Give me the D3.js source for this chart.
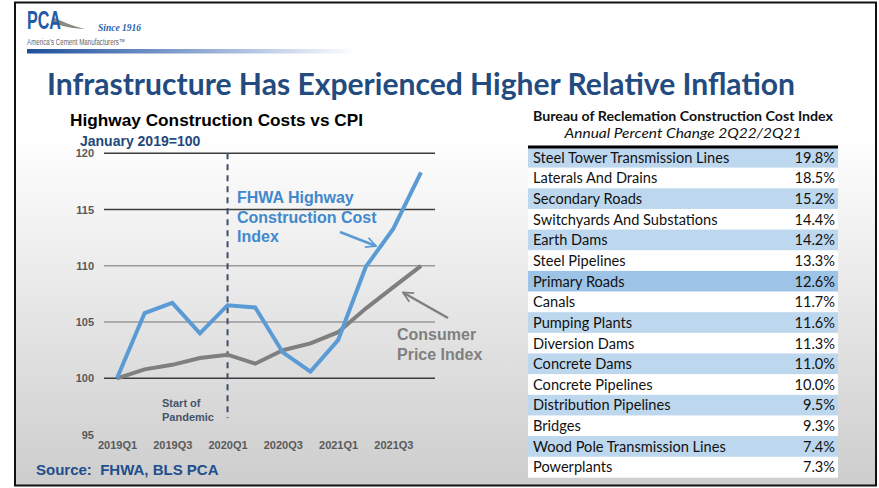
<!DOCTYPE html>
<html>
<head>
<meta charset="utf-8">
<script src="https://cdn.jsdelivr.net/npm/d3@7"></script>
<style>
  html, body { margin: 0; padding: 0; background: #ffffff; }
  svg { display: block; }
</style>
</head>
<body>
<svg id="slide" width="879" height="488"></svg>
<script>
// ---- Data ----
const quarters = ["2019Q1","2019Q2","2019Q3","2019Q4","2020Q1","2020Q2","2020Q3","2020Q4","2021Q1","2021Q2","2021Q3","2021Q4"];
const fhwaIndex = [100, 105.8, 106.7, 104.0, 106.5, 106.3, 102.3, 100.6, 103.4, 109.9, 113.3, 118.3];
const cpiIndex  = [100, 100.8, 101.2, 101.8, 102.1, 101.3, 102.5, 103.1, 104.1, 106.2, 108.1, 110.0];
const xTickLabels = ["2019Q1","2019Q3","2020Q1","2020Q3","2021Q1","2021Q3"];
const yTickValues = [95, 100, 105, 110, 115, 120];
const pandemicQuarter = "2020Q1";

const costCategories = [
  "Steel Tower Transmission Lines", "Laterals And Drains", "Secondary Roads",
  "Switchyards And Substations", "Earth Dams", "Steel Pipelines", "Primary Roads",
  "Canals", "Pumping Plants", "Diversion Dams", "Concrete Dams", "Concrete Pipelines",
  "Distribution Pipelines", "Bridges", "Wood Pole Transmission Lines", "Powerplants"
];
const costChanges = [19.8, 18.5, 15.2, 14.4, 14.2, 13.3, 12.6, 11.7, 11.6, 11.3, 11.0, 10.0, 9.5, 9.3, 7.4, 7.3];

// ---- Slide frame ----
const svg = d3.select("#slide");
const defs = svg.append("defs");

const bg = defs.append("linearGradient").attr("id", "bgGrad")
  .attr("x1", 0).attr("y1", 0).attr("x2", 0).attr("y2", 1);
bg.append("stop").attr("offset", "0%").attr("stop-color", "#ffffff");
bg.append("stop").attr("offset", "27%").attr("stop-color", "#ffffff");
bg.append("stop").attr("offset", "100%").attr("stop-color", "#cdcdcd");

const bar = defs.append("linearGradient").attr("id", "barGrad")
  .attr("x1", 0).attr("y1", 0).attr("x2", 1).attr("y2", 0);
bar.append("stop").attr("offset", "0%").attr("stop-color", "#1d4f9a");
bar.append("stop").attr("offset", "45%").attr("stop-color", "#7f9ccc");
bar.append("stop").attr("offset", "100%").attr("stop-color", "#ffffff");

svg.append("rect").attr("x", 15).attr("y", 2.5).attr("width", 861).attr("height", 483)
  .attr("fill", "url(#bgGrad)").attr("stroke", "#111").attr("stroke-width", 2);

// ---- Logo ----
const logo = svg.append("g");
logo.append("path").attr("d", "M52,17 C62,21 72,26 85,29 C72,28.5 61,26 54,23 Z")
  .attr("fill", "#8a8a80");
logo.append("text").attr("x", 27).attr("y", 29)
  .attr("font-family", "'Liberation Sans Narrow','Liberation Sans',Arial,sans-serif")
  .attr("font-weight", "bold").attr("font-size", 26).attr("fill", "#1f5ca8")
  .attr("textLength", 34).attr("lengthAdjust", "spacingAndGlyphs").text("PCA");
logo.append("text").attr("x", 98).attr("y", 31)
  .attr("font-family", "'Liberation Serif',serif").attr("font-style", "italic")
  .attr("font-weight", "bold").attr("font-size", 9.5).attr("fill", "#2a62b0").text("Since 1916");
logo.append("text").attr("x", 27).attr("y", 44.5)
  .attr("font-family", "'Liberation Sans Narrow','Liberation Sans',Arial,sans-serif")
  .attr("font-size", 8.5).attr("fill", "#666").attr("textLength", 98)
  .attr("lengthAdjust", "spacingAndGlyphs").text("America's Cement Manufacturers\u2122");
logo.append("rect").attr("x", 27).attr("y", 49).attr("width", 330).attr("height", 4.5)
  .attr("fill", "url(#barGrad)");

// ---- Slide title ----
svg.append("text").attr("x", 47).attr("y", 95)
  .attr("font-family", "Lato,'Open Sans',sans-serif").attr("font-weight", "bold")
  .attr("font-size", 31).attr("fill", "#234b80")
  .attr("textLength", 748).attr("lengthAdjust", "spacingAndGlyphs")
  .text("Infrastructure Has Experienced Higher Relative Inflation");

// ---- Line chart ----
const arial = "'Liberation Sans',Arial,sans-serif";
const chart = svg.append("g");

chart.append("text").attr("x", 70).attr("y", 126)
  .attr("font-family", arial).attr("font-weight", "bold").attr("font-size", 17)
  .attr("fill", "#000").attr("textLength", 293).attr("lengthAdjust", "spacingAndGlyphs")
  .text("Highway Construction Costs vs CPI");
chart.append("text").attr("x", 80).attr("y", 146)
  .attr("font-family", arial).attr("font-weight", "bold").attr("font-size", 14)
  .attr("fill", "#1f497d").text("January 2019=100");

const x = d3.scalePoint().domain(quarters).range([117, 421]);
const y = d3.scaleLinear().domain([95, 120]).range([434.6, 153.3]);
const gridLeft = 104, gridRight = 435;

// horizontal gridlines
const gridColor = v => (v === 110 || v === 105) ? "#9a9a9a" : "#3c3c3c";
chart.append("g").selectAll("line")
  .data(yTickValues.filter(v => v >= 100))
  .join("line")
  .attr("x1", gridLeft).attr("x2", gridRight)
  .attr("y1", d => y(d)).attr("y2", d => y(d))
  .attr("stroke", gridColor).attr("stroke-width", 1.5);

// y axis labels
const yAxis = d3.axisLeft(y).tickValues(yTickValues).tickSize(0).tickPadding(0);
const yG = chart.append("g").attr("transform", "translate(94,0)").call(yAxis);
yG.select(".domain").remove();
yG.selectAll("text").attr("font-family", arial).attr("font-weight", "bold")
  .attr("font-size", 11).attr("fill", "#595959");

// x axis labels
const xAxis = d3.axisBottom(x).tickValues(xTickLabels).tickSize(0).tickPadding(0);
const xG = chart.append("g").attr("transform", "translate(0,441)").call(xAxis);
xG.select(".domain").remove();
xG.selectAll("text").attr("font-family", arial).attr("font-weight", "bold")
  .attr("font-size", 11).attr("fill", "#595959");

// pandemic marker
chart.append("line")
  .attr("x1", x(pandemicQuarter)).attr("x2", x(pandemicQuarter))
  .attr("y1", y(120)).attr("y2", 418)
  .attr("stroke", "#3f4d66").attr("stroke-width", 2).attr("stroke-dasharray", "6,5");
const pand = chart.append("text").attr("font-family", arial).attr("font-weight", "bold")
  .attr("font-size", 11).attr("fill", "#44546a");
pand.append("tspan").attr("x", 162).attr("y", 407).text("Start of");
pand.append("tspan").attr("x", 162).attr("y", 420.5).text("Pandemic");

// series lines
const line = d3.line().x((d, i) => x(quarters[i])).y(d => y(d));
chart.append("path").datum(cpiIndex).attr("d", line)
  .attr("fill", "none").attr("stroke", "#7f7f7f").attr("stroke-width", 4)
  .attr("stroke-linejoin", "miter");
chart.append("path").datum(fhwaIndex).attr("d", line)
  .attr("fill", "none").attr("stroke", "#5b9bd5").attr("stroke-width", 4)
  .attr("stroke-linejoin", "miter");

// callout arrows
function arrowMarker(id, color) {
  defs.append("marker").attr("id", id).attr("viewBox", "0 0 10 10")
    .attr("refX", 9).attr("refY", 5).attr("markerWidth", 5).attr("markerHeight", 5)
    .attr("orient", "auto").attr("markerUnits", "strokeWidth")
    .append("path").attr("d", "M1,1 L9,5 L1,9").attr("fill", "none")
    .attr("stroke", color).attr("stroke-width", 1.4);
}
arrowMarker("arrowBlue", "#5b9bd5");
arrowMarker("arrowGray", "#7f7f7f");

chart.append("line").attr("x1", 340).attr("y1", 232).attr("x2", 376).attr("y2", 246)
  .attr("stroke", "#5b9bd5").attr("stroke-width", 2.5).attr("marker-end", "url(#arrowBlue)");
chart.append("line").attr("x1", 448).attr("y1", 318).attr("x2", 403).attr("y2", 292.5)
  .attr("stroke", "#7f7f7f").attr("stroke-width", 2.5).attr("marker-end", "url(#arrowGray)");

// callout labels
const fl = chart.append("text").attr("font-family", arial).attr("font-weight", "bold")
  .attr("font-size", 16).attr("fill", "#4288cc");
["FHWA Highway", "Construction Cost", "Index"].forEach((t, i) =>
  fl.append("tspan").attr("x", 237).attr("y", 203 + i * 19.5).text(t));
const cl = chart.append("text").attr("font-family", arial).attr("font-weight", "bold")
  .attr("font-size", 16).attr("fill", "#7f7f7f");
["Consumer", "Price Index"].forEach((t, i) =>
  cl.append("tspan").attr("x", 397).attr("y", 340 + i * 19.5).text(t));

// source line
svg.append("text").attr("x", 36).attr("y", 475)
  .attr("font-family", arial).attr("font-weight", "bold").attr("font-size", 15)
  .attr("fill", "#1f4e8c").attr("xml:space", "preserve").text("Source:  FHWA, BLS PCA");

// ---- Cost index table ----
const tbl = svg.append("g");
const tLeft = 528, tRight = 838, tTop = 147, rowH = 20.65;
const calib = "Lato,'Open Sans',sans-serif";

tbl.append("text").attr("x", 683).attr("y", 121).attr("text-anchor", "middle")
  .attr("font-family", calib).attr("font-weight", "bold").attr("font-size", 13.5)
  .attr("fill", "#111").attr("textLength", 300).attr("lengthAdjust", "spacingAndGlyphs")
  .text("Bureau of Reclemation Construction Cost Index");
tbl.append("text").attr("x", 683).attr("y", 138).attr("text-anchor", "middle")
  .attr("font-family", calib).attr("font-style", "italic").attr("font-size", 13.5)
  .attr("fill", "#111").attr("textLength", 237).attr("lengthAdjust", "spacingAndGlyphs")
  .text("Annual Percent Change 2Q22/2Q21");

const rowFill = (d, i) => d === "Primary Roads" ? "#9dc3e6" : (i % 2 === 0 ? "#bdd7ee" : "#ffffff");
const rows = tbl.selectAll("g.row").data(costCategories).join("g")
  .attr("class", "row")
  .attr("transform", (d, i) => `translate(0,${tTop + i * rowH})`);
rows.append("rect").attr("x", tLeft).attr("width", tRight - tLeft).attr("height", rowH + 0.3)
  .attr("fill", rowFill);
rows.append("text").attr("x", 533).attr("y", 15.7)
  .attr("font-family", calib).attr("font-size", 14.6).attr("fill", "#111").text(d => d);
rows.append("text").attr("x", 835).attr("y", 15.7).attr("text-anchor", "end")
  .attr("font-family", calib).attr("font-size", 14.6).attr("fill", "#111")
  .text((d, i) => costChanges[i].toFixed(1) + "%");

tbl.append("line").attr("x1", tLeft).attr("x2", tRight).attr("y1", tTop).attr("y2", tTop)
  .attr("stroke", "#000").attr("stroke-width", 3);
</script>
</body>
</html>
